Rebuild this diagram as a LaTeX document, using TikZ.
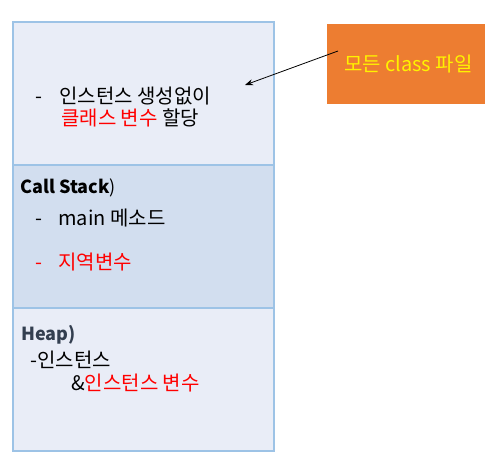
\documentclass[tikz,border=0pt]{standalone}
\usepackage{fontspec}
\setmainfont{Noto Sans CJK KR}
\usetikzlibrary{arrows.meta}

\begin{document}
\begin{tikzpicture}[x=0.75pt,y=-0.75pt,
    txt/.style={anchor=base west,inner sep=0pt,font=\fontsize{15}{18}\selectfont}]

    \definecolor{areafill}{HTML}{E9EDF7}
    \definecolor{stackfill}{HTML}{D2DEEF}
    \definecolor{arealine}{HTML}{9DC3E6}
    \definecolor{classfill}{HTML}{ED7D31}
    \definecolor{heapcolor}{HTML}{333F50}

    \useasboundingbox (0,0) rectangle (492,463);

    \filldraw[fill=areafill,draw=arealine,line width=1pt] (13,22) rectangle (274,165);
    \filldraw[fill=stackfill,draw=arealine,line width=1pt] (13,165) rectangle (274,308);
    \filldraw[fill=areafill,draw=arealine,line width=1pt] (13,308) rectangle (274,451);

    \node[txt] (dash1) at (35,104) {-};
    \node[txt] (method1) at (59,104) {인스턴스 생성없이};
    \node[txt] (method2) at (61,126) {\textcolor{red}{클래스 변수} 할당};

    \node[txt,font=\fontsize{13.5}{18}\selectfont\bfseries] (stack) at (20,194) {Call Stack\textmd{)}};
    \node[txt] (dash2) at (35,225) {-};
    \node[txt] (stack1) at (58,225) {main 메소드};
    \node[txt,red] (dash3) at (35,269) {-};
    \node[txt,red] (stack2) at (58,269) {지역변수};

    \node[txt,heapcolor,font=\fontsize{13.5}{18}\selectfont\bfseries] (heap) at (21,340) {Heap)};
    \node[txt] (heap1) at (30,367) {-인스턴스};
    \node[txt] (heap2) at (71,390) {\&\textcolor{red}{인스턴스 변수}};

    \node[fill=classfill,text=yellow,minimum width=118.5pt,minimum height=60pt,
        font=\fontsize{15}{18}\selectfont] (classfile) at (406,64) {\ 모든 class 파일};

    \coordinate (tail) at (338,51);
    \coordinate (head) at (245,85);
    \draw[-{Stealth[length=6pt,width=4.5pt]},line width=0.6pt] (tail) -- (head);

\end{tikzpicture}
\end{document}
